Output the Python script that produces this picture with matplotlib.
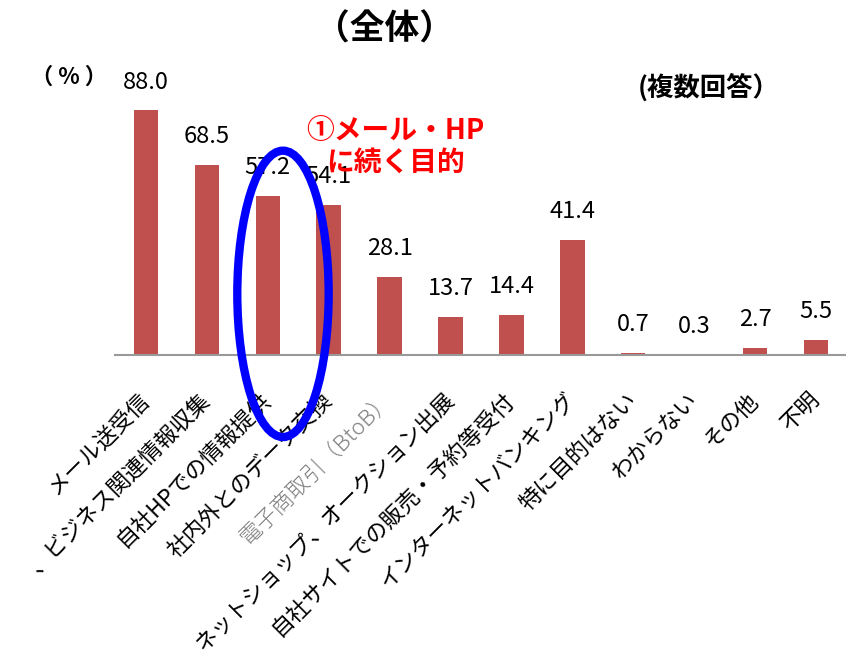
import matplotlib
matplotlib.use("Agg")
import matplotlib.pyplot as plt
from matplotlib.patches import Ellipse

plt.rcParams['font.family'] = ['Noto Sans CJK JP', 'DejaVu Sans']

# data
categories = ['メール送受信', '、ビジネス関連情報収集', '自社HPでの情報提供', '社内外とのデータ交換',
              '電子商取引（BtoB）', 'ネットショップ、オークション出展', '自社サイトでの販売・予約等受付',
              'インターネットバンキング', '特に目的はない', 'わからない', 'その他', '不明']
values = [88.0, 68.5, 57.2, 54.1, 28.1, 13.7, 14.4, 41.4, 0.7, 0.3, 2.7, 5.5]
gray_label = '電子商取引（BtoB）'

fig = plt.figure(figsize=(8.46, 6.56), dpi=100)
ax = fig.add_axes([0.1365, 0.4588, 0.864, 0.4238])

x = list(range(len(values)))
ax.bar(x, values, width=0.4, color='#C0504D', zorder=2)
for xi, v in zip(x, values):
    ax.text(xi, v + 6, f'{v:.1f}', ha='center', va='bottom', fontsize=17)

ax.set_xlim(-0.5, len(values) - 0.5)
ax.set_ylim(0, 100)
for s in ['top', 'right', 'left']:
    ax.spines[s].set_visible(False)
ax.spines['bottom'].set_color('#999999')
ax.spines['bottom'].set_linewidth(1.5)
ax.set_yticks([])
ax.set_xticks(x)
ax.set_xticklabels(categories, rotation=45, ha='right', va='center',
                   rotation_mode='anchor', fontsize=16)
ax.tick_params(axis='x', length=0, pad=30)
for lbl in ax.get_xticklabels():
    if lbl.get_text() == gray_label:
        lbl.set_color('#7F7F7F')
        lbl.set_fontweight('light')

# texts around the chart
fig.text(0.455, 0.956, '（全体）', ha='center', va='center', fontsize=25, fontweight='bold')
fig.text(0.081, 0.882, '（ % ）', ha='center', va='center', fontsize=16, fontweight='bold')
fig.text(0.838, 0.866, '(複数回答）', ha='center', va='center', fontsize=19, fontweight='bold')
fig.text(0.468, 0.776, '①メール・HP\nに続く目的', ha='center', va='center', fontsize=20,
         fontweight='bold', color='#FF0000', linespacing=1.2)

# highlight ellipse around bars 3-4
ell = Ellipse((2.25, 22), width=1.5, height=103, fill=False, edgecolor='#0000FF',
              linewidth=6, clip_on=False, zorder=5)
ax.add_patch(ell)

fig.savefig('out.png', dpi=100)
